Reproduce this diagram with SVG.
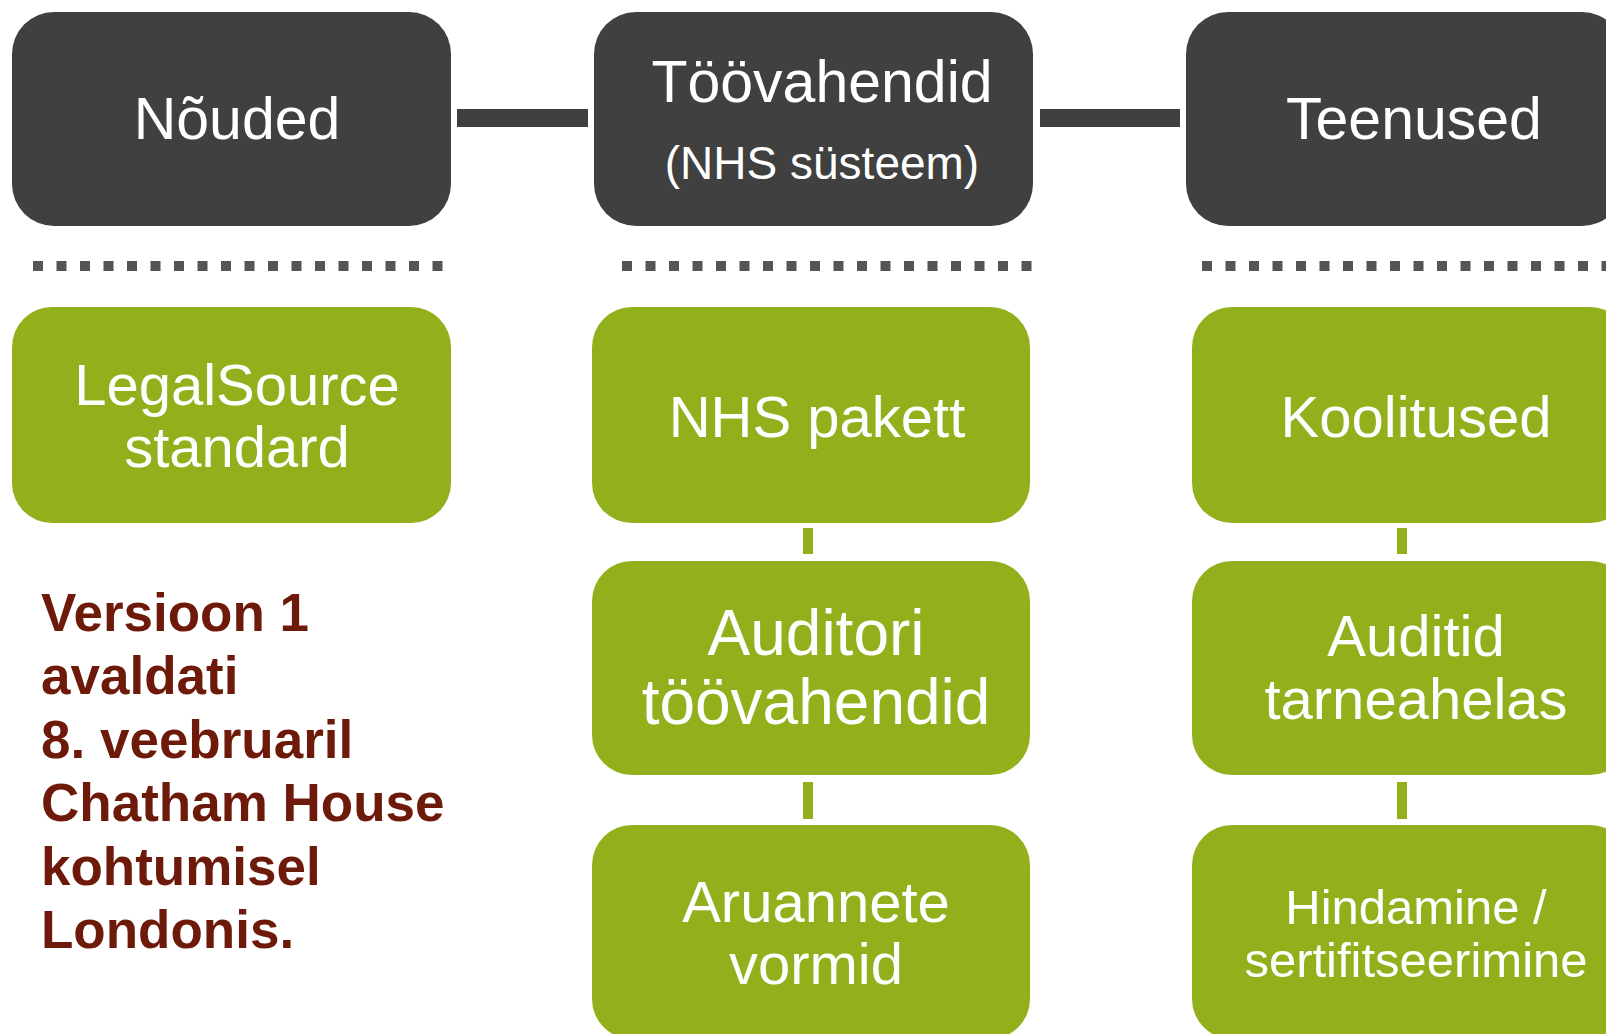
<svg xmlns="http://www.w3.org/2000/svg" width="1606" height="1034" viewBox="0 0 1606 1034">
<style>
.hdr{fill:#404040}
.grn{fill:#92B01C}
.t{font-family:"Liberation Sans",Arial,Helvetica,sans-serif;fill:#FFFFFF;text-anchor:middle}
.note{font-family:"Liberation Sans",Arial,Helvetica,sans-serif;font-weight:bold;fill:#6E1A0A;font-size:53px}
.dots{stroke:#555555;stroke-width:10;stroke-dasharray:10 13.5;fill:none}
</style>
<rect width="1606" height="1034" fill="#FFFFFF"/>
<g id="connectors">
<rect x="457" y="109" width="131" height="18" fill="#404040"/>
<rect x="1040" y="109" width="140" height="18" fill="#404040"/>
<rect x="803" y="528" width="10" height="26" fill="#92B01C"/>
<rect x="803" y="782" width="10" height="37" fill="#92B01C"/>
<rect x="1397" y="528" width="10" height="26" fill="#92B01C"/>
<rect x="1397" y="782" width="10" height="37" fill="#92B01C"/>
</g>
<g id="separators">
<line class="dots" x1="33" y1="266" x2="443" y2="266"/>
<line class="dots" x1="622" y1="266" x2="1032" y2="266"/>
<line class="dots" x1="1202" y1="266" x2="1606" y2="266"/>
</g>
<g id="noeuded">
<rect class="hdr" x="12" y="12" width="439" height="214" rx="42"/>
<text class="t" x="237" y="139" font-size="59">Nõuded</text>
</g>
<g id="toovahendid">
<rect class="hdr" x="594" y="12" width="439" height="214" rx="42"/>
<text class="t" x="822" y="102" font-size="59">Töövahendid</text>
<text class="t" x="822" y="179" font-size="46">(NHS süsteem)</text>
</g>
<g id="teenused">
<rect class="hdr" x="1186" y="12" width="438" height="214" rx="42"/>
<text class="t" x="1414" y="139" font-size="59">Teenused</text>
</g>
<g id="legalsource">
<rect class="grn" x="12" y="307" width="439" height="216" rx="40"/>
<text class="t" x="237" y="405" font-size="58">LegalSource</text>
<text class="t" x="237" y="467" font-size="58">standard</text>
</g>
<g id="nhspakett">
<rect class="grn" x="592" y="307" width="438" height="216" rx="40"/>
<text class="t" x="817" y="437" font-size="58">NHS pakett</text>
</g>
<g id="auditori">
<rect class="grn" x="592" y="561" width="438" height="214" rx="40"/>
<text class="t" x="816" y="655" font-size="64">Auditori</text>
<text class="t" x="816" y="724" font-size="64">töövahendid</text>
</g>
<g id="aruannete">
<rect class="grn" x="592" y="825" width="438" height="214" rx="40"/>
<text class="t" x="816" y="922" font-size="58">Aruannete</text>
<text class="t" x="816" y="984" font-size="58">vormid</text>
</g>
<g id="koolitused">
<rect class="grn" x="1192" y="307" width="438" height="216" rx="40"/>
<text class="t" x="1416" y="437" font-size="58">Koolitused</text>
</g>
<g id="auditid">
<rect class="grn" x="1192" y="561" width="438" height="214" rx="40"/>
<text class="t" x="1416" y="656" font-size="58">Auditid</text>
<text class="t" x="1416" y="719" font-size="58">tarneahelas</text>
</g>
<g id="hindamine">
<rect class="grn" x="1192" y="825" width="438" height="214" rx="40"/>
<text class="t" x="1416" y="924" font-size="49">Hindamine /</text>
<text class="t" x="1416" y="977" font-size="49">sertifitseerimine</text>
</g>
<g id="note">
<text class="note" x="41" y="631">Versioon 1</text>
<text class="note" x="41" y="694">avaldati</text>
<text class="note" x="41" y="758">8. veebruaril</text>
<text class="note" x="41" y="821">Chatham House</text>
<text class="note" x="41" y="885">kohtumisel</text>
<text class="note" x="41" y="948">Londonis.</text>
</g>
</svg>
